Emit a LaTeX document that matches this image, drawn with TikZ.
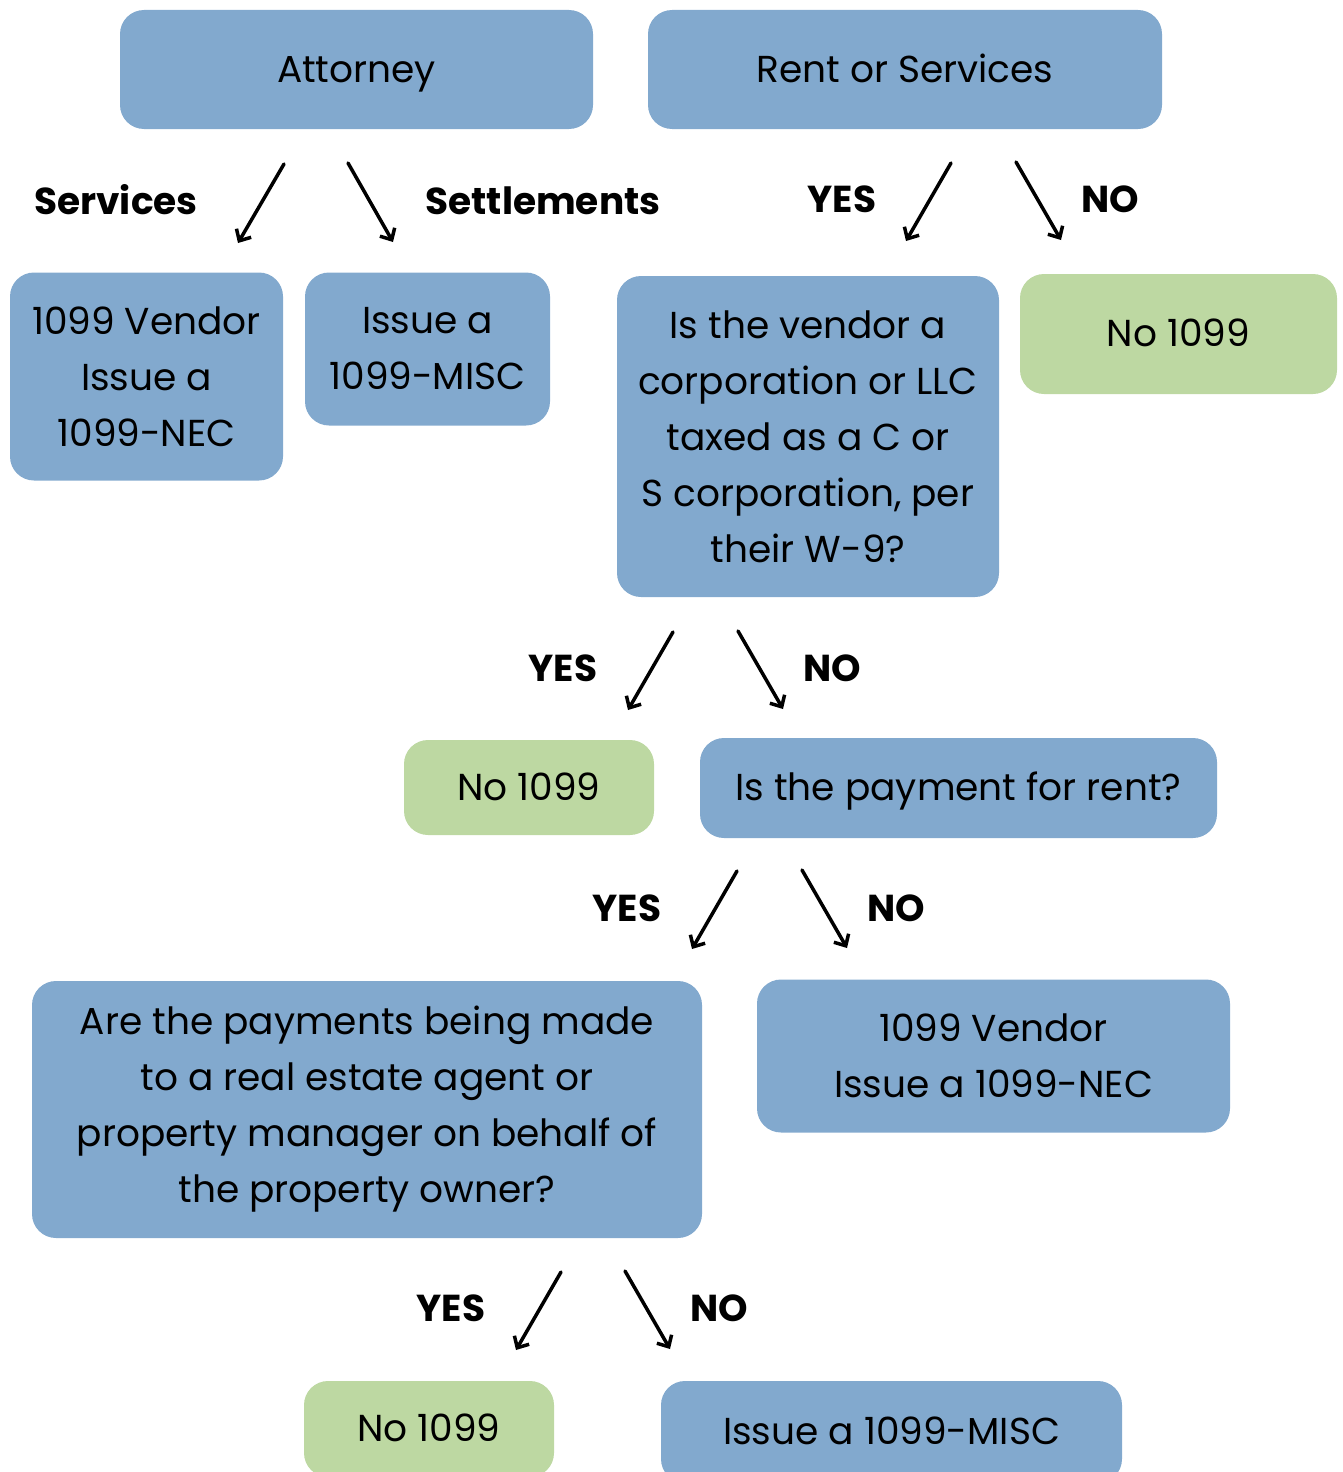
\documentclass[tikz,border=0pt]{standalone}
\usepackage{fontspec}
\setmainfont{Poppins}
\usetikzlibrary{arrows.meta}
\definecolor{boxblue}{RGB}{130,169,206}
\definecolor{boxgreen}{RGB}{189,216,162}
\begin{document}
\begin{tikzpicture}[x=1pt,y=-1pt,
  box/.style={fill=boxblue, rounded corners=24pt, inner sep=0pt, align=center,
    font=\fontsize{37.5}{56}\selectfont},
  gbox/.style={box, fill=boxgreen},
  oneline/.style={text height=30pt, text depth=5pt},
  lbl/.style={font=\fontsize{37.5}{40}\selectfont\bfseries, inner sep=0pt, text height=30pt, text depth=5pt},
  arr/.style={line width=3.5pt, line cap=round, -{Straight Barb[length=9pt,width=17pt,line width=3.5pt]}}]
\useasboundingbox (0,0) rectangle (1343,1472);
\clip (0,0) rectangle (1343,1472);

% top row
\node[box, oneline, minimum width=473pt, minimum height=119pt] (att) at (356.5,69.5) {Attorney};
\node[box, oneline, minimum width=514pt, minimum height=119pt] (rent) at (905,69.5) {Rent or Services};

\node[lbl] (lservices) at (116,202) {Services};
\node[lbl] (lsettle) at (543,202) {Settlements};
\node[lbl] (lyes1) at (842,200) {YES};
\node[lbl] (lno1) at (1110,200) {NO};

\coordinate (a1s) at (284,164); \coordinate (a1e) at (238,243);
\coordinate (a2s) at (348,163); \coordinate (a2e) at (393,242);
\coordinate (a3s) at (951,163); \coordinate (a3e) at (906,241);
\coordinate (a4s) at (1016,162); \coordinate (a4e) at (1061,240);
\draw[arr] (a1s) -- (a1e);
\draw[arr] (a2s) -- (a2e);
\draw[arr] (a3s) -- (a3e);
\draw[arr] (a4s) -- (a4e);

% second row
\node[box, minimum width=273pt, minimum height=208pt] (nec1) at (146.5,376.5) {1099 Vendor\\Issue a\\1099-NEC};
\node[box, minimum width=245pt, minimum height=153pt] (misc1) at (427.5,349) {Issue a\\1099-MISC};
\node[box, minimum width=382pt, minimum height=321pt] (vendor) at (808,436.5)
  {Is the vendor a\\corporation or LLC\\taxed as a C or\\S corporation, per\\their W-9?};
\node[gbox, oneline, minimum width=317pt, minimum height=120pt] (no1) at (1178.5,334) {No 1099};

\node[lbl] (lyes2) at (563,669) {YES};
\node[lbl] (lno2) at (832,669) {NO};
\coordinate (b1s) at (673,632); \coordinate (b1e) at (628,710);
\coordinate (b2s) at (738,631); \coordinate (b2e) at (783,709);
\draw[arr] (b1s) -- (b1e);
\draw[arr] (b2s) -- (b2e);

% third row
\node[gbox, oneline, minimum width=250pt, minimum height=95pt] (no2) at (529,787.5) {No 1099};
\node[box, oneline, minimum width=517pt, minimum height=100pt] (rentq) at (958.5,788) {Is the payment for rent?};

\node[lbl] (lyes3) at (627,909) {YES};
\node[lbl] (lno3) at (896,909) {NO};
\coordinate (c1s) at (737,871); \coordinate (c1e) at (692,949);
\coordinate (c2s) at (802,870); \coordinate (c2e) at (847,948);
\draw[arr] (c1s) -- (c1e);
\draw[arr] (c2s) -- (c2e);

% fourth row
\node[box, minimum width=670pt, minimum height=257pt] (agent) at (367,1109.5)
  {Are the payments being made\\to a real estate agent or\\property manager on behalf of\\the property owner?};
\node[box, minimum width=473pt, minimum height=153pt] (nec2) at (993.5,1056) {1099 Vendor\\Issue a 1099-NEC};

\node[lbl] (lyes4) at (451,1309) {YES};
\node[lbl] (lno4) at (719,1309) {NO};
\coordinate (d1s) at (561,1272); \coordinate (d1e) at (516,1350);
\coordinate (d2s) at (625,1271); \coordinate (d2e) at (670,1349);
\draw[arr] (d1s) -- (d1e);
\draw[arr] (d2s) -- (d2e);

% bottom row
\node[gbox, oneline, minimum width=250pt, minimum height=96pt] (no3) at (429,1429) {No 1099};
\node[box, oneline, minimum width=461pt, minimum height=102pt] (misc2) at (891.5,1432) {Issue a 1099-MISC};
\end{tikzpicture}
\end{document}
